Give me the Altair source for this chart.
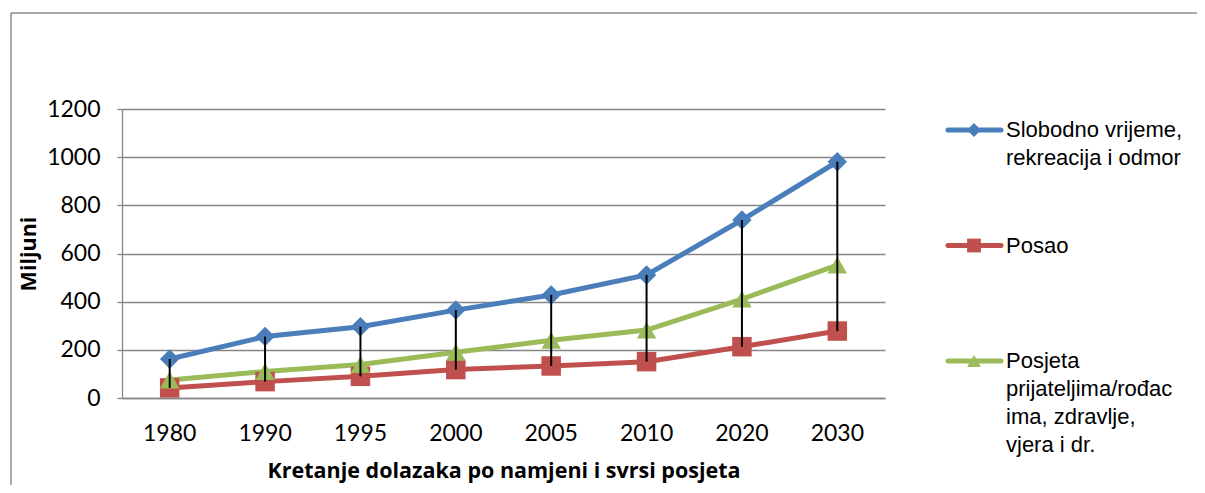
import altair as alt
import pandas as pd

years = ["1980", "1990", "1995", "2000", "2005", "2010", "2020", "2030"]
series = ["Slobodno vrijeme, rekreacija i odmor", "Posao",
          "Posjeta prijateljima/rođacima, zdravlje, vjera i dr."]
legend_labels = ["Slobodno vrijeme,\nrekreacija i odmor", "Posao",
                 "Posjeta\nprijateljima/rođac\nima, zdravlje,\nvjera i dr."]
slobodno = [162, 255, 296, 365, 428, 511, 739, 981]
posao = [42, 68, 90, 118, 133, 151, 213, 278]
posjeta = [75, 110, 139, 190, 240, 282, 411, 552]
colors = ["#4A7EBB", "#C0504D", "#9BBB59"]
shapes = ["diamond", "square", "triangle-up"]
y_ticks = [0, 200, 400, 600, 800, 1000, 1200]

rows = []
for name, vals in zip(series, [slobodno, posao, posjeta]):
    for yr, v in zip(years, vals):
        rows.append({"year": yr, "series": name, "value": v})
df = pd.DataFrame(rows)
leg = pd.DataFrame({"series": series, "label": legend_labels})

GRAY = "#868686"
color_scale = alt.Scale(domain=series, range=colors)
shape_scale = alt.Scale(domain=series, range=shapes)
x_enc = alt.X("year:N", sort=years,
              scale=alt.Scale(paddingInner=0, paddingOuter=0),
              axis=alt.Axis(title="Kretanje dolazaka po namjeni i svrsi posjeta",
                            labelAngle=0, ticks=False, labelPadding=24,
                            labelFont="Lato", labelFontSize=23, labelColor="black",
                            titleFont="Open Sans", titleFontSize=21.5, titleFontWeight="bold",
                            titleColor="black", titlePadding=15,
                            domainColor=GRAY, domainWidth=1.3, grid=False))
y_scale = alt.Scale(domain=[0, 1200], nice=False)
y_enc = alt.Y("value:Q", scale=y_scale,
              axis=alt.Axis(title="Miljuni", values=y_ticks, format="d",
                            tickSize=5, tickColor=GRAY,
                            tickWidth=1.3, labelPadding=17, labelFont="Lato",
                            labelFontSize=23, labelColor="black",
                            titleFont="Open Sans", titleFontSize=21.5, titleFontWeight="bold",
                            titleColor="black", titlePadding=6,
                            domainColor=GRAY, domainWidth=1.3,
                            grid=True, gridColor=GRAY, gridWidth=1.3))

base = alt.Chart(df)
lines = base.mark_line(strokeWidth=5).encode(
    x=x_enc, y=y_enc,
    color=alt.Color("series:N", scale=color_scale, legend=None),
    order=alt.Order("year:N"),
)
points = base.mark_point(filled=True, opacity=1, size=380).encode(
    x=alt.X("year:N", sort=years), y=alt.Y("value:Q", scale=y_scale),
    color=alt.Color("series:N", scale=color_scale, legend=None),
    shape=alt.Shape("series:N", scale=shape_scale, legend=None),
)
hilo = base.transform_aggregate(
    lo="min(value)", hi="max(value)", groupby=["year"]
).mark_rule(color="black", strokeWidth=2).encode(
    x=alt.X("year:N", sort=years),
    y=alt.Y("lo:Q", scale=y_scale),
    y2="hi:Q",
)
main = alt.layer(lines, points, hilo)

leg_y = alt.Y("series:N", scale=alt.Scale(type="point", domain=series, range=[21, 252], padding=0), axis=None)
lbase = alt.Chart(leg)
leg_rule = lbase.mark_rule(strokeWidth=5, strokeCap="round").encode(
    x=alt.value(826), x2=alt.value(879), y=leg_y,
    color=alt.Color("series:N", scale=color_scale, legend=None),
)
leg_pt = lbase.mark_point(filled=True, opacity=1, size=190).encode(
    x=alt.value(852), y=leg_y,
    color=alt.Color("series:N", scale=color_scale, legend=None),
    shape=alt.Shape("series:N", scale=shape_scale, legend=None),
)
leg_txt = lbase.mark_text(align="left", baseline="middle", font="Liberation Sans",
                          fontSize=22, lineHeight=28, lineBreak="\n", color="black").encode(
    x=alt.value(884), y=leg_y, text="label:N",
)
legend = alt.layer(leg_rule, leg_pt, leg_txt)

frame = pd.DataFrame({"k": [0]})
frame_left = alt.Chart(frame).mark_rule(color="#8C8C8C", strokeWidth=1.5).encode(
    x=alt.value(-111), y=alt.value(-96), y2=alt.value(400))
frame_top = alt.Chart(frame).mark_rule(color="#8C8C8C", strokeWidth=1.5).encode(
    x=alt.value(-111), x2=alt.value(1080), y=alt.value(-96))
frames = alt.layer(frame_left, frame_top)

chart = alt.layer(main, legend, frames).resolve_scale(y="independent").properties(
    width=763, height=289,
    autosize=alt.AutoSizeParams(type="none"),
    padding={"left": 114, "top": 101, "right": 312, "bottom": 87},
    background="white",
).configure_view(strokeWidth=0)

chart.save("out.html", embed_options={"renderer": "svg", "actions": False})
